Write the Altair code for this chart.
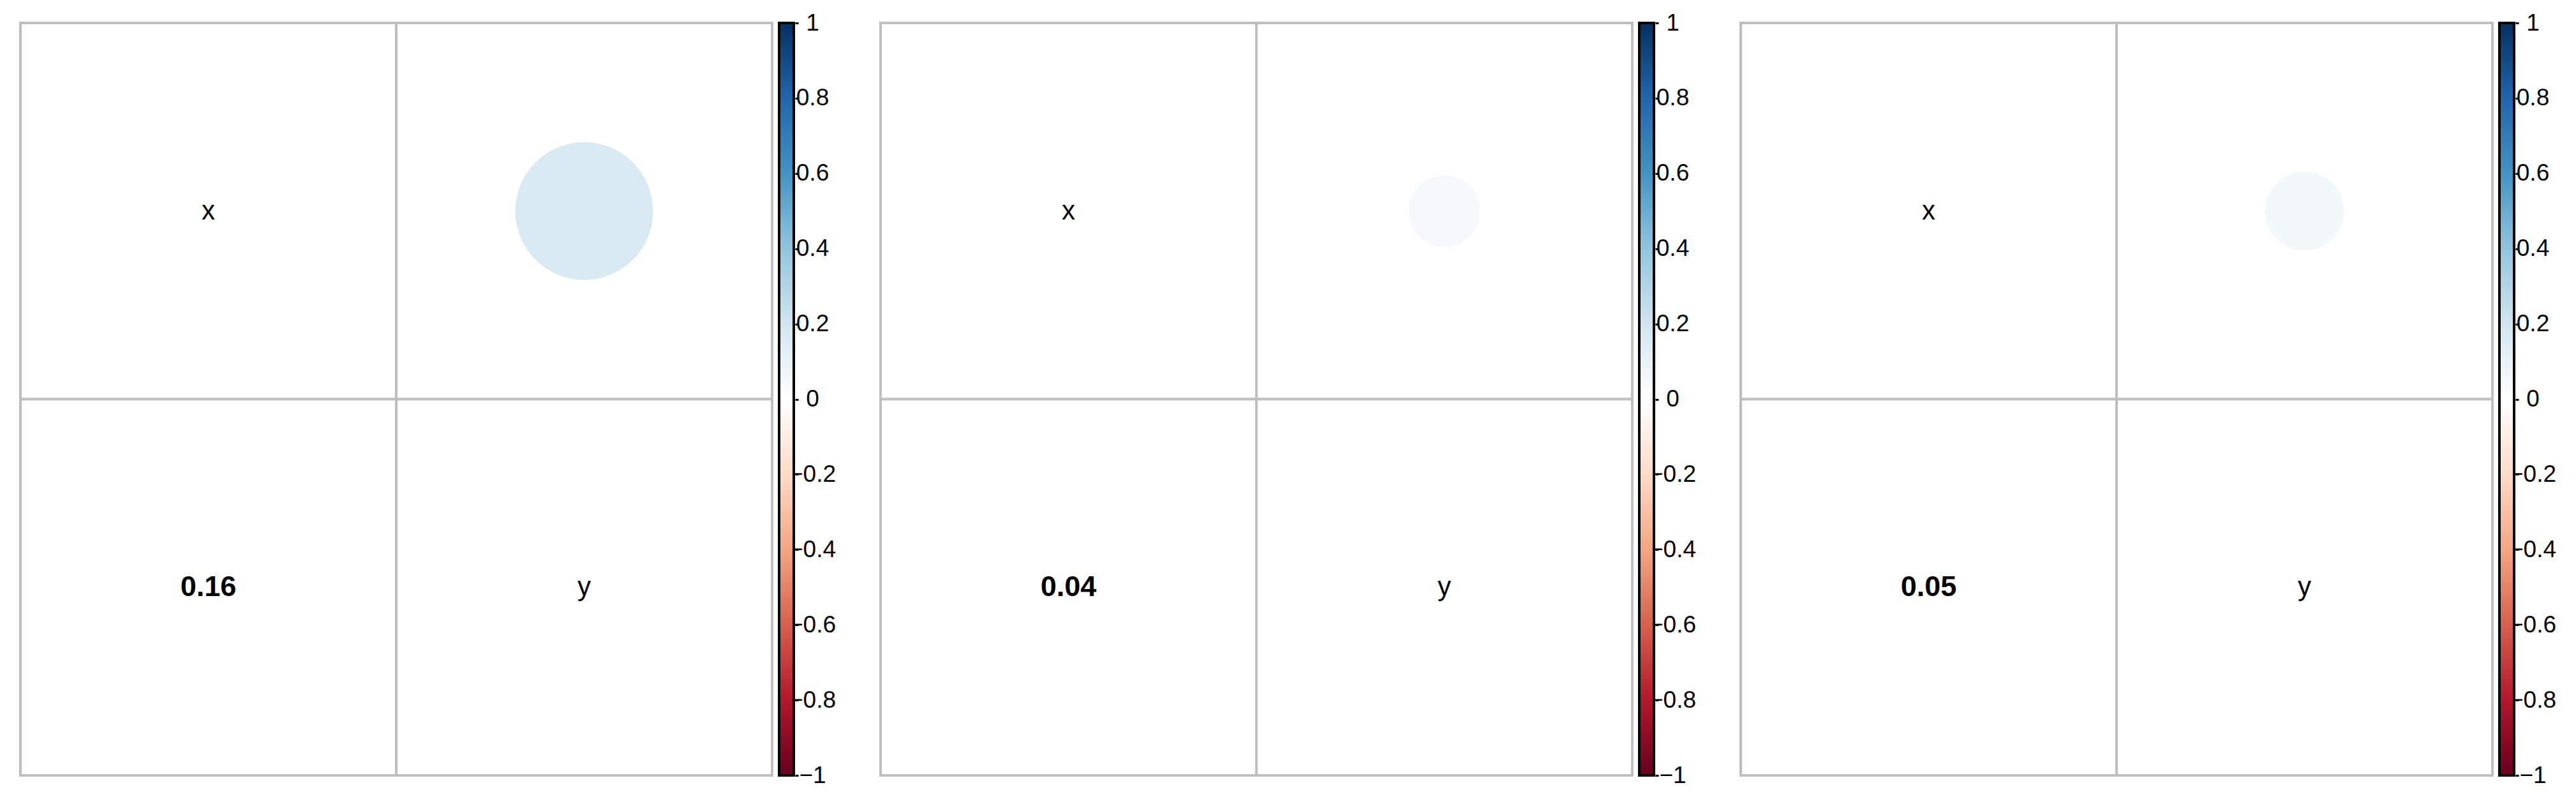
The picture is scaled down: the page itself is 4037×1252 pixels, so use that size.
import altair as alt
import pandas as pd
from itertools import product

# ---- data ----
VARS = ["x", "y"]
CORR = [0.163, 0.044, 0.054]          # x-y correlation shown in each panel
PALETTE = ["#67001F", "#B2182B", "#D6604D", "#F4A582", "#FDDBC7", "#FFFFFF",
           "#D1E5F0", "#92C5DE", "#4393C3", "#2166AC", "#053061"]
STOPS = [-1, -0.8, -0.6, -0.4, -0.2, 0, 0.2, 0.4, 0.6, 0.8, 1]
CBAR_TICKS = [-1, -0.8, -0.6, -0.4, -0.2, 0, 0.2, 0.4, 0.6, 0.8, 1]
CBAR_RANGE = [-1, 1]

PW, PH = 1178, 1179
CB_W = 23
GAP = 11
SPACER_W = 1348 - PW - CB_W - 3 * GAP
FONT = "Liberation Sans"
MAX_SIZE = 286225   # Vega circle: diameter = sqrt(size)

color_scale = alt.Scale(domain=STOPS, range=PALETTE, interpolate="rgb")


def panel(c):
    cells = pd.DataFrame(list(product(VARS, VARS)), columns=["col", "row"])
    circ = pd.DataFrame({"col": [VARS[1]], "row": [VARS[0]], "r": [c]})
    num = pd.DataFrame({"col": [VARS[0]], "row": [VARS[1]], "label": [f"{c:.2f}"]})
    diag = pd.DataFrame({"col": VARS, "row": VARS, "label": VARS})

    X = alt.X("col:N", scale=alt.Scale(domain=VARS, paddingInner=0, paddingOuter=0), axis=None)
    Y = alt.Y("row:N", scale=alt.Scale(domain=VARS, paddingInner=0, paddingOuter=0), axis=None)

    grid = alt.Chart(cells).mark_rect(fill="white", stroke="#BEBEBE", strokeWidth=4).encode(x=X, y=Y)
    dots = alt.Chart(circ).mark_circle(opacity=1, strokeWidth=0).encode(
        x=X, y=Y,
        color=alt.Color("r:Q", scale=color_scale, legend=None),
        size=alt.Size("r:Q", scale=alt.Scale(domain=[0, 1], range=[0, MAX_SIZE]), legend=None),
    )
    nums = alt.Chart(num).mark_text(font=FONT, fontSize=45, fontWeight="bold", color="black",
                                    baseline="middle", align="center").encode(x=X, y=Y, text="label:N")
    names = alt.Chart(diag).mark_text(font=FONT, fontSize=42, color="black",
                                      baseline="middle", align="center").encode(x=X, y=Y, text="label:N")
    return alt.layer(grid, dots, nums, names).properties(width=PW, height=PH)


def colorbar():
    df = pd.DataFrame({"lo": [CBAR_RANGE[0]], "hi": [CBAR_RANGE[1]]})
    grad = alt.LinearGradient(
        gradient="linear",
        stops=[alt.GradientStop(color=col, offset=(s + 1) / 2) for col, s in zip(PALETTE, STOPS)],
        x1=0, x2=0, y1=1, y2=0,
    )
    return alt.Chart(df).mark_rect(fill=grad, stroke="black", strokeWidth=4).encode(
        x=alt.value(0), x2=alt.value(CB_W),
        y=alt.Y("lo:Q", scale=alt.Scale(domain=CBAR_RANGE, nice=False, zero=False),
                axis=alt.Axis(orient="right", values=CBAR_TICKS, format=".1~f", title=None,
                              domain=False, grid=False, ticks=True, tickColor="black",
                              tickWidth=3, tickSize=5, offset=2, labelAlign="center",
                              labelPadding=22, labelFont=FONT, labelFontSize=37,
                              labelColor="black", labelBaseline="middle",
                              labelOverlap=False, labelFlush=False)),
        y2="hi:Q",
    ).properties(width=CB_W, height=PH)


def spacer():
    return alt.Chart(pd.DataFrame({"v": [0]})).mark_point(opacity=0).encode(
        x=alt.value(0), y=alt.value(0)
    ).properties(width=SPACER_W, height=PH)


parts = []
for i, c in enumerate(CORR):
    parts += [panel(c), colorbar()]
    if i < len(CORR) - 1:
        parts.append(spacer())

chart = alt.hconcat(*parts, spacing=GAP, bounds="flush").properties(
    padding={"left": 22, "top": 9, "right": 5, "bottom": 5}
).configure_view(stroke=None)

chart.save("out.html", embed_options={"renderer": "svg", "actions": False})
